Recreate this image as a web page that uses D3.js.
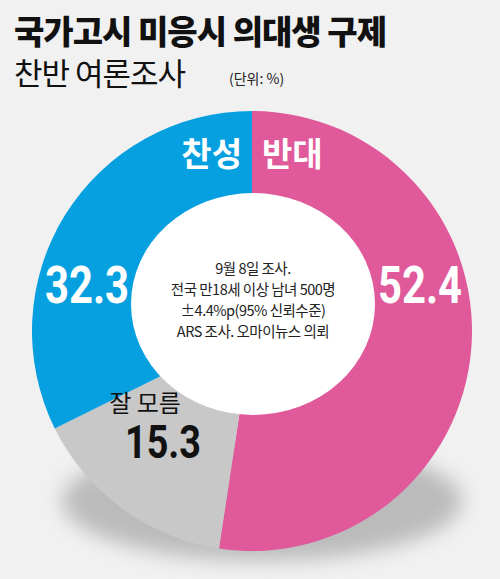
<!DOCTYPE html><html><head><meta charset="utf-8"><script src="https://cdn.jsdelivr.net/npm/d3@7"></script>
<style>body{margin:0;background:#f1f1f1}</style></head><body><script>
const categories=["반대","잘 모름","찬성"];
const values=[52.4,15.3,32.3];
const colors=["#e0599b","#c8c8c8","#069fe0"];
const notes=["9월 8일 조사.","전국 만18세 이상 남녀 500명","±4.4%p(95% 신뢰수준)","ARS 조사. 오마이뉴스 의뢰"];
const W=500,H=579,cx=252,cy=331,R=220;
const svg=d3.select("body").append("svg").attr("width",W).attr("height",H);
svg.append("rect").attr("width",W).attr("height",H).attr("fill","#f1f1f1");
const defs=svg.append("defs");
const f=defs.append("filter").attr("id","sh").attr("x","-50%").attr("y","-50%").attr("width","200%").attr("height","200%");
f.append("feGaussianBlur").attr("stdDeviation",10);
svg.append("ellipse").attr("cx",cx+10).attr("cy",cy+170).attr("rx",200).attr("ry",60).attr("fill","#bbb").attr("filter","url(#sh)");
const pie=d3.pie().sort(null).value(d=>d)(values);
const arc=d3.arc().innerRadius(0).outerRadius(R);
const g=svg.append("g").attr("transform",`translate(${cx},${cy})`);
g.selectAll("path").data(pie).join("path").attr("d",arc).attr("fill",(d,i)=>colors[i]);
svg.append("ellipse").attr("cx",253).attr("cy",304).attr("rx",122).attr("ry",111).attr("fill","#fff");
const ff="'Noto Sans CJK KR',sans-serif";
svg.append("text").attr("x",14).attr("y",44).attr("font-family",ff).attr("font-weight",900).attr("font-size",33).attr("letter-spacing",-1).attr("fill","#111").text("국가고시 미응시 의대생 구제");
svg.append("text").attr("x",14).attr("y",85).attr("font-family",ff).attr("font-size",31).attr("letter-spacing",-1).attr("fill","#111").text("찬반 여론조사");
svg.append("text").attr("x",229).attr("y",84).attr("font-family",ff).attr("font-size",14).attr("fill","#222").text("(단위: %)");
const big=(x,y,t,c,s)=>svg.append("text").attr("text-anchor","middle").attr("font-family","'Liberation Sans Narrow','Roboto',sans-serif").attr("font-weight",700).attr("font-size",s).attr("fill",c).attr("transform",`translate(${x},${y}) scale(0.82,1)`).text(t);
big(87,303,values[2].toFixed(1),"#fff",51);
big(420,303,values[0].toFixed(1),"#fff",51);
big(163,458,values[1].toFixed(1),"#111",46);
svg.append("text").attr("x",242).attr("y",166).attr("text-anchor","end").attr("font-family",ff).attr("font-weight",700).attr("font-size",33).attr("fill","#fff").text(categories[2]);
svg.append("text").attr("x",262).attr("y",166).attr("font-family",ff).attr("font-weight",700).attr("font-size",33).attr("fill","#fff").text(categories[0]);
svg.append("text").attr("x",145).attr("y",412).attr("text-anchor","middle").attr("font-family",ff).attr("font-size",24).attr("fill","#111").text(categories[1]);
svg.selectAll(".n").data(notes).join("text").attr("x",253).attr("y",(d,i)=>274+i*21).attr("text-anchor","middle").attr("font-family",ff).attr("font-size",14.5).attr("letter-spacing",-0.5).attr("fill","#222").text(d=>d);
</script></body></html>
